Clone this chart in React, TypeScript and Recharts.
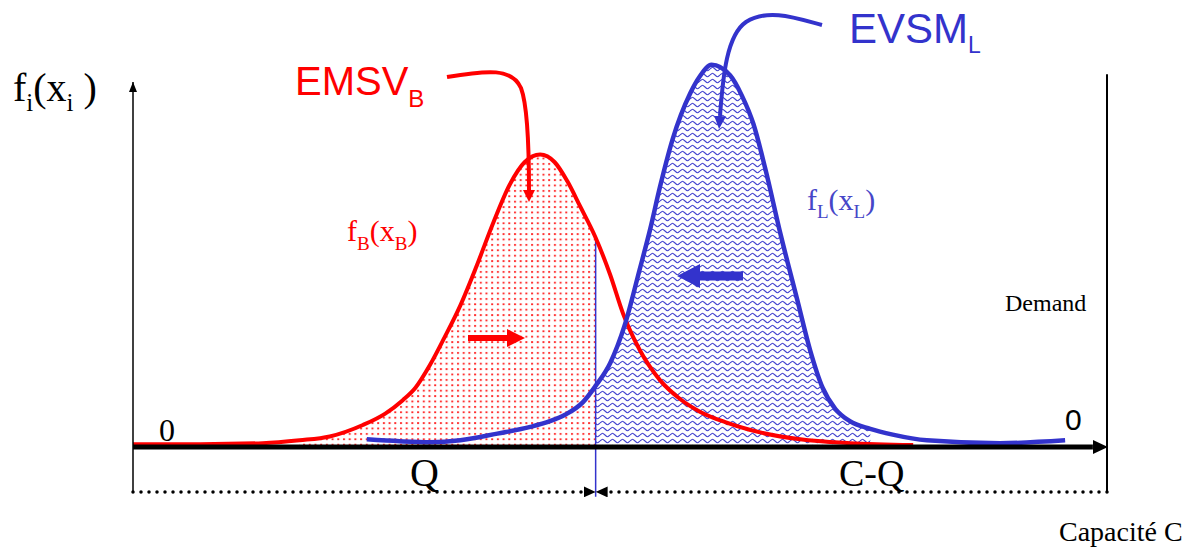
import { ComposedChart, Line, Area, XAxis, YAxis, ReferenceLine } from "recharts";

// demand (0..C) and density readings for the two distributions
const demandB = [0, 6.9, 13.3, 17.1, 20.2, 23.6, 25.9, 27.7, 29.0, 30.5, 32.0, 33.6, 35.3, 37.0, 38.7, 40.2, 41.8, 43.3, 44.6, 45.9, 47.5, 49.0, 50.3, 52.0, 54.1, 56.2, 58.2, 60.8, 63.3, 68.5, 73.6, 80.1];
const densityB = [0.03, 0.03, 0.04, 0.07, 0.11, 0.23, 0.35, 0.49, 0.62, 0.86, 1.15, 1.48, 1.9, 2.35, 2.75, 2.98, 3.06, 2.98, 2.78, 2.52, 2.19, 1.8, 1.4, 1.02, 0.7, 0.5, 0.37, 0.26, 0.18, 0.08, 0.04, 0.02];

const demandL = [24.0, 27.4, 30.5, 33.6, 37.4, 40.8, 42.8, 44.4, 46.2, 47.5, 49.0, 50.5, 52.0, 53.1, 54.1, 55.4, 57.2, 58.2, 59.4, 61.3, 62.5, 63.7, 64.9, 66.5, 68.2, 69.5, 70.8, 72.1, 73.6, 75.7, 78.0, 81.5, 89.0, 95.7];
const densityL = [0.08, 0.06, 0.05, 0.07, 0.14, 0.21, 0.27, 0.34, 0.47, 0.64, 0.88, 1.28, 1.85, 2.28, 2.72, 3.22, 3.7, 3.88, 4.0, 3.89, 3.68, 3.38, 2.92, 2.22, 1.54, 1.02, 0.62, 0.4, 0.27, 0.19, 0.13, 0.07, 0.04, 0.07];

const capacity = 100;
const orderQ = 47.5;
const shadeBFrom = 17.1;
const shadeLTo = 75.7;

const curveB = demandB.map((x, i) => ({ x, y: densityB[i] }));
const curveL = demandL.map((x, i) => ({ x, y: densityL[i] }));
const shadeB = curveB.filter((p) => p.x >= shadeBFrom && p.x <= orderQ);
const shadeL = curveL.filter((p) => p.x >= orderQ && p.x <= shadeLTo);
const densityAtQ = curveB.find((p) => p.x === orderQ)?.y ?? 0;

// layout
const W = 1199;
const H = 554;
const Y_MAX = 4.5;
const margin = { top: 17, right: 92, bottom: 107, left: 133 };
const axisTop = 3.82;
const frameTop = 3.9;
const dimY = -0.47;
const qBottom = -0.52;

const RED = "#ff0000";
const BLUE = "#3333cc";
const serif = '"Liberation Serif", "Times New Roman", serif';
const sans = '"Liberation Sans", Arial, sans-serif';

export default function App() {
  return (
    <div style={{ position: "absolute", left: 0, top: 0, width: W, height: H, background: "#fff" }}>
      <ComposedChart width={W} height={H} margin={margin}>
        <XAxis type="number" dataKey="x" domain={[0, capacity]} allowDataOverflow hide />
        <YAxis type="number" dataKey="y" domain={[0, Y_MAX]} allowDataOverflow hide />
        <Area data={shadeB} dataKey="y" type="monotone" stroke="none" fill="url(#dotsB)" fillOpacity={1} isAnimationActive={false} />
        <Area data={shadeL} dataKey="y" type="monotone" stroke="none" fill="url(#wavesL)" fillOpacity={1} isAnimationActive={false} />
        <ReferenceLine
          segment={[{ x: orderQ, y: qBottom }, { x: orderQ, y: densityAtQ }]}
          stroke={BLUE}
          strokeWidth={1.5}
          ifOverflow="visible"
        />
        <Line data={curveB} dataKey="y" type="monotone" stroke={RED} strokeWidth={4} dot={false} isAnimationActive={false} />
        <Line data={curveL} dataKey="y" type="monotone" stroke={BLUE} strokeWidth={4.5} dot={false} isAnimationActive={false} />
        <ReferenceLine
          segment={[{ x: 0, y: dimY }, { x: 0, y: axisTop }]}
          stroke="#000"
          strokeWidth={1.5}
          markerEnd="url(#axisHead)"
          ifOverflow="visible"
        />
        <ReferenceLine
          segment={[{ x: capacity, y: dimY }, { x: capacity, y: frameTop }]}
          stroke="#000"
          strokeWidth={2}
          ifOverflow="visible"
        />
        <ReferenceLine
          segment={[{ x: 0, y: 0 }, { x: capacity - 1.45, y: 0 }]}
          stroke="#000"
          strokeWidth={5}
          markerEnd="url(#baseHead)"
          ifOverflow="visible"
        />
        <ReferenceLine
          segment={[{ x: 0, y: dimY }, { x: orderQ, y: dimY }]}
          stroke="#000"
          strokeWidth={3.5}
          strokeDasharray="0 8"
          strokeLinecap="round"
          markerEnd="url(#dimHead)"
          ifOverflow="visible"
        />
        <ReferenceLine
          segment={[{ x: capacity, y: dimY }, { x: orderQ, y: dimY }]}
          stroke="#000"
          strokeWidth={3.5}
          strokeDasharray="0 8"
          strokeLinecap="round"
          markerEnd="url(#dimHead)"
          ifOverflow="visible"
        />
      </ComposedChart>

      <svg width={W} height={H} style={{ position: "absolute", left: 0, top: 0, pointerEvents: "none" }}>
        <defs>
          <pattern id="dotsB" width={5.7} height={5.4} patternUnits="userSpaceOnUse">
            <rect x={1} y={1} width={2} height={1.8} fill="#ff2626" />
          </pattern>
          <pattern id="wavesL" width={10} height={6} patternUnits="userSpaceOnUse">
            <path d="M0,3 C2.5,0.6 2.5,0.6 5,3 C7.5,5.4 7.5,5.4 10,3" fill="none" stroke="#4444d0" strokeWidth={1.1} />
          </pattern>
          <marker id="axisHead" markerWidth={10} markerHeight={8} refX={10} refY={4} orient="auto" markerUnits="userSpaceOnUse">
            <path d="M0,0 L10,4 L0,8 z" fill="#000" />
          </marker>
          <marker id="baseHead" markerWidth={15} markerHeight={14} refX={0} refY={7} orient="auto" markerUnits="userSpaceOnUse">
            <path d="M0,0 L15,7 L0,14 z" fill="#000" />
          </marker>
          <marker id="dimHead" markerWidth={12} markerHeight={11} refX={12} refY={5.5} orient="auto" markerUnits="userSpaceOnUse">
            <path d="M0,0 L12,5.5 L0,11 z" fill="#000" />
          </marker>
          <marker id="leadRed" markerWidth={12} markerHeight={12} refX={0} refY={6} orient="auto" markerUnits="userSpaceOnUse">
            <path d="M0,0 L12,6 L0,12 z" fill={RED} />
          </marker>
          <marker id="leadBlue" markerWidth={13} markerHeight={12} refX={0} refY={6} orient="auto" markerUnits="userSpaceOnUse">
            <path d="M0,0 L13,6 L0,12 z" fill={BLUE} />
          </marker>
        </defs>

        {/* leaders from the names to the peaks */}
        <path d="M447,77 C488,70 512,68 521,88 C527,104 529,140 529,190" fill="none" stroke={RED} strokeWidth={4} markerEnd="url(#leadRed)" />
        <path d="M822,25 C796,18 768,8 746,22 C727,35 723,75 720,116" fill="none" stroke={BLUE} strokeWidth={4} markerEnd="url(#leadBlue)" />

        {/* shift arrows */}
        <path d="M468,335 L507,335 L507,329 L525,338 L507,347 L507,341 L468,341 z" fill={RED} />
        <path d="M743,271.5 L700,271.5 L700,264 L677,276 L700,288 L700,280.5 L743,280.5 z" fill={BLUE} />

        <text x={13} y={101} fontFamily={serif} fontSize={40} fill="#000">
          f<tspan fontSize={25} dy={10}>i</tspan>
          <tspan dy={-10}>(x</tspan>
          <tspan fontSize={25} dy={10}>i</tspan>
          <tspan dy={-10}> )</tspan>
        </text>

        <text x={295} y={95} fontFamily={sans} fontSize={40} fill={RED}>
          EMSV<tspan fontSize={24} dy={12}>B</tspan>
        </text>
        <text x={849} y={43} fontFamily={sans} fontSize={42} fill={BLUE}>
          EVSM<tspan fontSize={23} dy={10}>L</tspan>
        </text>

        <text x={347} y={241} fontFamily={serif} fontSize={30} fill={RED}>
          f<tspan fontSize={19} dy={9}>B</tspan>
          <tspan dy={-9}>(x</tspan>
          <tspan fontSize={19} dy={9}>B</tspan>
          <tspan dy={-9}>)</tspan>
        </text>
        <text x={807} y={210} fontFamily={serif} fontSize={30} fill="#4646c8">
          f<tspan fontSize={19} dy={8}>L</tspan>
          <tspan dy={-8}>(x</tspan>
          <tspan fontSize={19} dy={8}>L</tspan>
          <tspan dy={-8}>)</tspan>
        </text>

        <text x={1005} y={311} fontFamily={serif} fontSize={24} fill="#000">Demand</text>
        <text x={159} y={441} fontFamily={serif} fontSize={32} fill="#000">0</text>
        <text x={1065} y={430} fontFamily={sans} fontSize={30} fill="#000">0</text>
        <text x={410} y={486} fontFamily={serif} fontSize={40} fill="#000">Q</text>
        <text x={839} y={486} fontFamily={serif} fontSize={38} fill="#000">C-Q</text>
        <text x={1059} y={541} fontFamily={serif} fontSize={28} fill="#000">Capacité C</text>
      </svg>
    </div>
  );
}
